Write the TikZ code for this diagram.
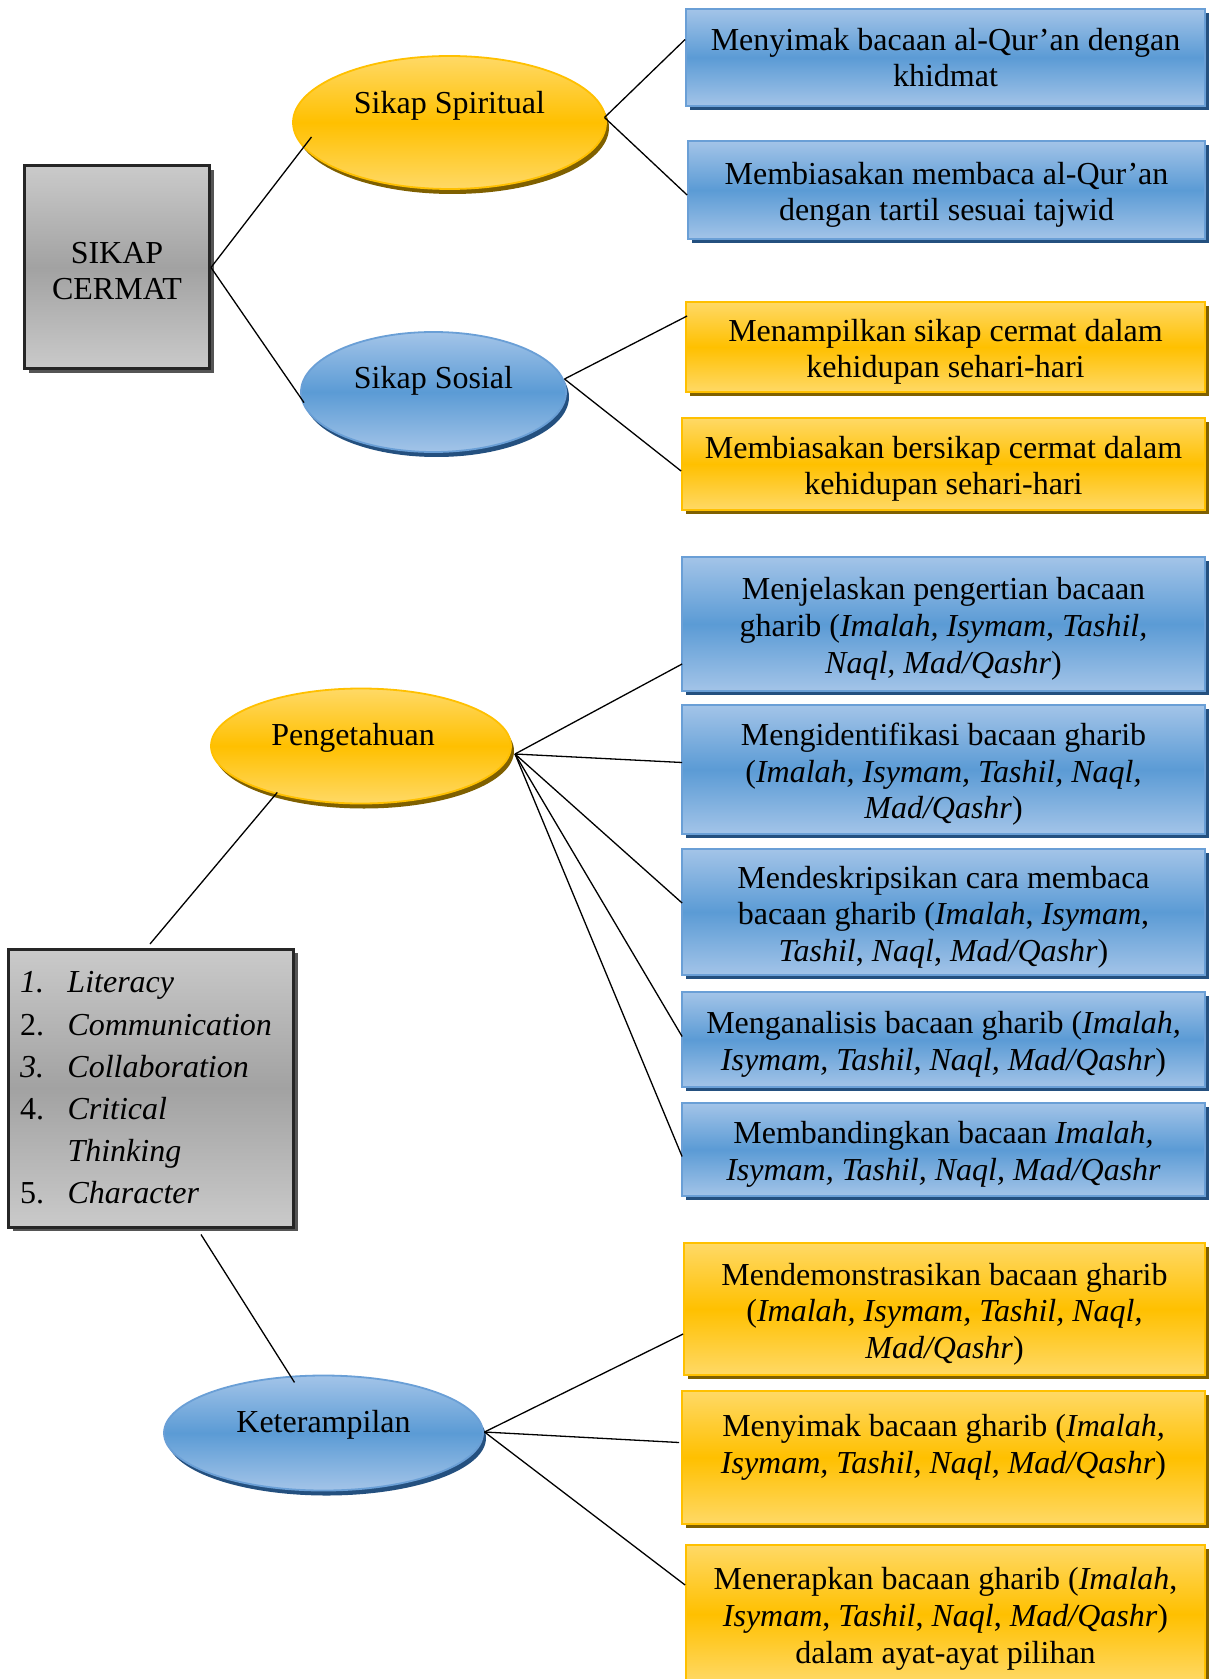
\documentclass[tikz,border=0pt]{standalone}
\usepackage{fontspec}
\setmainfont{Liberation Serif}
\usetikzlibrary{shapes.geometric,shadows}

\definecolor{bluelt}{HTML}{A3C4E8}
\definecolor{bluemid}{HTML}{5B9BD5}
\definecolor{blueedge}{HTML}{6A9FD6}
\definecolor{blueshade}{HTML}{24507F}
\definecolor{yellt}{HTML}{FFD966}
\definecolor{yelmid}{HTML}{FFC000}
\definecolor{yelshade}{HTML}{7F6000}
\definecolor{graylt}{HTML}{CACACA}
\definecolor{graymid}{HTML}{A2A2A2}
\definecolor{grayedge}{HTML}{262626}
\definecolor{grayshade}{HTML}{555555}

\newcommand{\topgap}{\rule{0pt}{16pt}}

\begin{document}
\begin{tikzpicture}[x=0.5pt,y=-0.5pt,font=\fontsize{16}{18.3}\selectfont,
    bluebox/.style={rectangle,draw=blueedge,line width=0.9pt,top color=bluelt,bottom color=bluelt,middle color=bluemid,
        align=center,inner sep=0pt,drop shadow={shadow xshift=2pt,shadow yshift=-2.2pt,fill=blueshade,opacity=1}},
    yellowbox/.style={rectangle,draw=yelmid,line width=0.9pt,top color=yellt,bottom color=yellt,middle color=yelmid,
        align=center,inner sep=0pt,drop shadow={shadow xshift=2pt,shadow yshift=-2.2pt,fill=yelshade,opacity=1}},
    graybox/.style={rectangle,draw=grayedge,line width=1.5pt,top color=graylt,bottom color=graylt,middle color=graymid,
        inner sep=0pt,drop shadow={shadow xshift=2pt,shadow yshift=-2pt,fill=grayshade,opacity=1}},
    blueoval/.style={ellipse,draw=blueedge,line width=0.9pt,top color=bluelt,bottom color=bluelt,middle color=bluemid,
        inner sep=0pt,drop shadow={shadow xshift=1.5pt,shadow yshift=-2.5pt,fill=blueshade,opacity=1}},
    yellowoval/.style={ellipse,draw=yelmid,line width=0.9pt,top color=yellt,bottom color=yellt,middle color=yelmid,
        inner sep=0pt,drop shadow={shadow xshift=1.5pt,shadow yshift=-2.5pt,fill=yelshade,opacity=1}},
    link/.style={line width=0.65pt}]

    \clip (0,0) rectangle (1210,1679);

    % Sikap part
    \node[graybox,minimum width=92.5pt,minimum height=101.5pt,align=center] (cermat) at (117,267.5) {\rule{0pt}{14pt}SIKAP\\CERMAT};
    \node[yellowoval,minimum width=156.5pt,minimum height=66.5pt,label={[yshift=8.5pt]center:Sikap Spiritual}] (spirit) at (449.5,122.5) {};
    \node[blueoval,minimum width=132.5pt,minimum height=60pt,label={[yshift=5.5pt]center:Sikap Sosial}] (sosial) at (433.5,392) {};

    \node[bluebox,minimum width=259.5pt,minimum height=48.5pt] (b1) at (945.5,57.5) {Menyimak bacaan al-Qur’an dengan\\khidmat};
    \node[bluebox,minimum width=258.5pt,minimum height=49pt] (b2) at (946.5,190) {\topgap Membiasakan membaca al-Qur’an\\dengan tartil sesuai tajwid};
    \node[yellowbox,minimum width=259.5pt,minimum height=45pt] (b3) at (945.5,347) {\topgap Menampilkan sikap cermat dalam\\kehidupan sehari-hari};
    \node[yellowbox,minimum width=261.5pt,minimum height=46pt] (b4) at (943.5,464) {\topgap Membiasakan bersikap cermat dalam\\kehidupan sehari-hari};

    % Pengetahuan part
    \node[graybox,minimum width=142.5pt,minimum height=139pt,inner xsep=5.7pt,text width=131pt,align=left,
        font=\fontsize{16}{21.1}\selectfont] (list) at (151,1088)
        {\makebox[23.75pt][l]{\textit{1.}}\textit{Literacy}\\
         \makebox[23.75pt][l]{2.}\textit{Communication}\\
         \makebox[23.75pt][l]{\textit{3.}}\textit{Collaboration}\\
         \makebox[23.75pt][l]{4.}\textit{Critical}\\
         \makebox[23.75pt][l]{}\textit{Thinking}\\
         \makebox[23.75pt][l]{5.}\textit{Character}};
    \node[yellowoval,minimum width=150pt,minimum height=57.5pt,label={[yshift=4pt,xshift=-4pt]center:Pengetahuan}] (tahu) at (361,746) {};

    \node[bluebox,minimum width=261.5pt,minimum height=67pt] (b5) at (943.5,624) {\topgap Menjelaskan pengertian bacaan\\gharib (\textit{Imalah, Isymam, Tashil,}\\\textit{Naql, Mad/Qashr})};
    \node[bluebox,minimum width=261.5pt,minimum height=64.5pt] (b6) at (943.5,769.5) {\topgap Mengidentifikasi bacaan gharib\\(\textit{Imalah, Isymam, Tashil, Naql,}\\\textit{Mad/Qashr})};
    \node[bluebox,minimum width=261.5pt,minimum height=63pt] (b7) at (943.5,912) {\topgap Mendeskripsikan cara membaca\\bacaan gharib (\textit{Imalah}, \textit{Isymam},\\\textit{Tashil}, \textit{Naql}, \textit{Mad/Qashr})};
    \node[bluebox,minimum width=261.5pt,minimum height=47.5pt] (b8) at (943.5,1039.5) {\topgap Menganalisis bacaan gharib (\textit{Imalah,}\\\textit{Isymam, Tashil, Naql, Mad/Qashr})};
    \node[bluebox,minimum width=261.5pt,minimum height=46.5pt] (b9) at (943.5,1149.5) {\topgap Membandingkan bacaan \textit{Imalah,}\\\textit{Isymam, Tashil, Naql, Mad/Qashr}};

    % Keterampilan part
    \node[blueoval,minimum width=159.5pt,minimum height=57.5pt,label={[yshift=4pt]center:Keterampilan}] (terampil) at (323.5,1433) {};

    \node[yellowbox,minimum width=260.5pt,minimum height=66pt] (b10) at (944.5,1309) {\topgap Mendemonstrasikan bacaan gharib\\(\textit{Imalah, Isymam, Tashil, Naql,}\\\textit{Mad/Qashr})};
    \node[yellowbox,minimum width=261.5pt,minimum height=66.5pt] (b11) at (943.5,1457.5) {\topgap Menyimak bacaan gharib (\textit{Imalah,}\\\textit{Isymam, Tashil, Naql, Mad/Qashr})\\\mbox{}};
    \node[yellowbox,minimum width=259.5pt,minimum height=69pt] (b12) at (945.5,1614) {\topgap Menerapkan bacaan gharib (\textit{Imalah},\\\textit{Isymam}, \textit{Tashil}, \textit{Naql}, \textit{Mad/Qashr})\\dalam ayat-ayat pilihan};

    % Connectors
    \draw[link] (cermat.east) -- ([shift={(-138,14.5)}]spirit.center);
    \draw[link] (cermat.east) -- ([shift={(-129.5,10.6)}]sosial.center);
    \draw[link] ([shift={(155,-5)}]spirit.center) -- ([shift={(0,-18)}]b1.west);
    \draw[link] ([shift={(155,-5)}]spirit.center) -- ([shift={(0,5)}]b2.west);
    \draw[link] ([shift={(131,-13)}]sosial.center) -- ([shift={(2,-31)}]b3.west);
    \draw[link] ([shift={(131,-13)}]sosial.center) -- ([shift={(0,7)}]b4.west);

    \draw[link] ([shift={(-1,-3.5)}]list.north) -- ([shift={(-83.7,46.4)}]tahu.center);
    \foreach \bx/\dy in {b5/40,b6/-7,b7/-9,b8/-3,b9/7}
        \draw[link] ([shift={(154,8)}]tahu.center) -- ([shift={(1,\dy)}]\bx.west);

    \draw[link] ([shift={(50,6)}]list.south) -- ([shift={(-29,-50.6)}]terampil.center);
    \draw[link] ([shift={(161,-1)}]terampil.center) -- ([shift={(0,25)}]b10.west);
    \draw[link] ([shift={(161,-1)}]terampil.center) -- ([shift={(-2,-15)}]b11.west);
    \draw[link] ([shift={(161,-1)}]terampil.center) -- ([shift={(0,-29)}]b12.west);
\end{tikzpicture}
\end{document}
